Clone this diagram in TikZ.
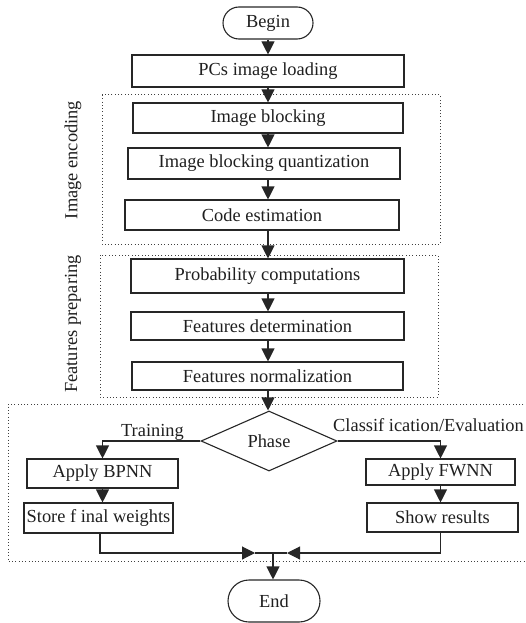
\documentclass[tikz,border=0pt]{standalone}
\usepackage{fontspec}
\setmainfont{Liberation Serif}
\usetikzlibrary{arrows.meta,shapes.geometric,shapes.misc}
\begin{document}
\begin{tikzpicture}[x=1pt,y=-1pt,
  font=\fontsize{18.4}{22}\selectfont,
  every node/.style={text=black!88},
  box/.style={draw=black!85, line width=1.1pt, rectangle, inner sep=0pt},
  term/.style={draw=black!85, line width=1.1pt, rounded rectangle, inner sep=0pt},
  decision/.style={draw=black!85, line width=1.1pt, diamond, aspect=2.25, inner sep=0pt},
  arr/.style={line width=1.1pt, draw=black!85, -{Triangle[length=13pt,width=13pt]}},
  ln/.style={line width=1.1pt, draw=black!85},
  grp/.style={line width=1pt, black!75, dash pattern=on 1pt off 2.3pt},
]
\useasboundingbox (0,0) rectangle (526,623);

% group frames
\draw[grp] (102,95) rectangle (440,244);
\draw[grp] (100,255) rectangle (438,397);
\draw[grp] (530,404) -- (8,404) -- (8,561) -- (530,561);

% group labels
\node[rotate=90] (lenc) at (73,160) {Image encoding};
\node[rotate=90] (lfeat) at (73,324) {Features preparing};

% nodes
\node[term, minimum width=90pt, minimum height=32pt] (begin) at (268,23) {Begin};
\node[box, minimum width=272pt, minimum height=32pt] (pcs) at (268,71) {PCs image loading};
\node[box, minimum width=270pt, minimum height=30pt] (blk) at (268,118) {Image blocking};
\node[box, minimum width=272pt, minimum height=31pt] (quant) at (264,163.5) {Image blocking quantization};
\node[box, minimum width=274pt, minimum height=30pt] (code) at (262,215) {Code estimation};
\node[box, minimum width=273pt, minimum height=34pt] (prob) at (267.5,276) {Probability computations};
\node[box, minimum width=273pt, minimum height=28pt] (fdet) at (267.5,326) {Features determination};
\node[box, minimum width=271pt, minimum height=28pt] (fnorm) at (267.5,376) {Features normalization};
\node[decision, minimum width=136pt, minimum height=60pt] (phase) at (269,441) {Phase};
\node[box, minimum width=151pt, minimum height=29pt] (bpnn) at (102.5,473.5) {Apply BPNN};
\node[box, minimum width=149pt, minimum height=30pt] (store) at (98.5,518) {Store f inal weights};
\node[box, minimum width=149pt, minimum height=26pt] (fwnn) at (440.5,472) {Apply FWNN};
\node[box, minimum width=151pt, minimum height=29pt] (show) at (442.5,517.5) {Show results};
\node[term, minimum width=92pt, minimum height=42pt] (end) at (274,601) {End};

% branch labels
\node[anchor=base] (train) at (152.5,436) {Training};
\node[anchor=base] (clsf) at (428.5,431) {Classif ication/Evaluation};

% connectors
\coordinate (sp) at (268,0);
\draw[arr] (begin.south -| sp) -- (pcs.north -| sp);
\draw[arr] (pcs.south -| sp) -- (blk.north -| sp);
\draw[arr] (blk.south -| sp) -- (quant.north -| sp);
\draw[arr] (quant.south -| sp) -- (code.north -| sp);
\draw[arr] (code.south -| sp) -- (prob.north -| sp);
\draw[arr] (prob.south -| sp) -- (fdet.north -| sp);
\draw[arr] (fdet.south -| sp) -- (fnorm.north -| sp);
\draw[arr] (fnorm.south -| sp) -- (phase.north -| sp);
\draw[arr] (phase.west) -| (bpnn.north);
\draw[arr] (phase.east) -| (fwnn.north);
\draw[arr] (bpnn.south) -- (bpnn.south |- store.north);
\draw[arr] (fwnn.south) -- (fwnn.south |- show.north);

\coordinate (ml) at (255,553);
\coordinate (mr) at (287,553);
\coordinate (mj) at (273,553);
\draw[arr] (store.south -| 100,0) |- (ml);
\draw[arr] (show.south -| fwnn.south) |- (mr);
\draw[ln] (ml) -- (mr);
\draw[arr] (mj) -- (mj |- end.north);
\end{tikzpicture}
\end{document}
